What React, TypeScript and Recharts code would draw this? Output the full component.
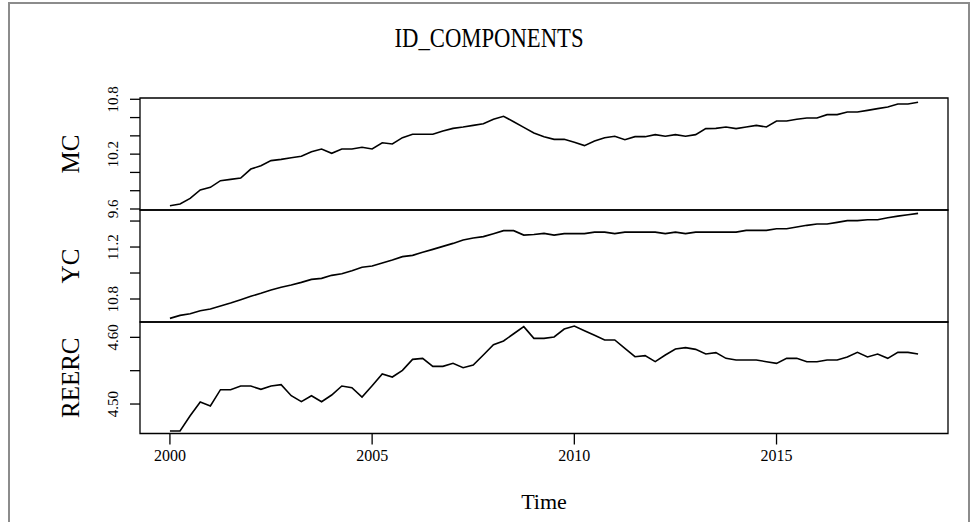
import { LineChart, Line, XAxis, YAxis, ReferenceArea } from 'recharts'

// quarterly series, ts(start = 2000, frequency = 4)
const START = 2000
const FREQ = 4

const MC = [
  9.636, 9.654, 9.716, 9.808, 9.837, 9.910, 9.924, 9.939, 10.037, 10.074,
  10.129, 10.143, 10.161, 10.176, 10.227, 10.256, 10.209, 10.256, 10.256, 10.275,
  10.256, 10.325, 10.311, 10.380, 10.417, 10.417, 10.417, 10.453, 10.482, 10.497,
  10.515, 10.533, 10.581, 10.614, 10.555, 10.493, 10.431, 10.391, 10.362, 10.362,
  10.329, 10.293, 10.344, 10.380, 10.395, 10.358, 10.391, 10.391, 10.413, 10.395,
  10.413, 10.395, 10.413, 10.479, 10.482, 10.497, 10.479, 10.497, 10.515, 10.497,
  10.563, 10.563, 10.581, 10.595, 10.595, 10.632, 10.632, 10.661, 10.661, 10.679,
  10.698, 10.716, 10.749, 10.749, 10.767,
]

const YC = [
  10.651, 10.674, 10.687, 10.710, 10.723, 10.746, 10.769, 10.795, 10.821, 10.844,
  10.869, 10.890, 10.908, 10.928, 10.951, 10.959, 10.982, 10.995, 11.018, 11.044,
  11.054, 11.077, 11.100, 11.126, 11.136, 11.159, 11.182, 11.205, 11.228, 11.254,
  11.269, 11.280, 11.303, 11.326, 11.326, 11.292, 11.296, 11.305, 11.292, 11.303,
  11.303, 11.303, 11.315, 11.315, 11.303, 11.315, 11.315, 11.315, 11.315, 11.303,
  11.315, 11.303, 11.315, 11.315, 11.315, 11.315, 11.315, 11.328, 11.328, 11.328,
  11.341, 11.341, 11.354, 11.367, 11.377, 11.377, 11.390, 11.403, 11.403, 11.410,
  11.410, 11.426, 11.438, 11.449, 11.459,
]

const REERC = [
  4.4595, 4.4595, 4.4825, 4.503, 4.497, 4.5215, 4.5215, 4.527, 4.527, 4.522,
  4.527, 4.529, 4.5125, 4.5035, 4.5125, 4.5035, 4.5135, 4.527, 4.5245, 4.5105,
  4.5275, 4.545, 4.5405, 4.5505, 4.567, 4.5685, 4.5565, 4.5565, 4.561, 4.5545,
  4.5585, 4.5735, 4.589, 4.5945, 4.6054, 4.616, 4.5985, 4.5985, 4.6005, 4.6124,
  4.617, 4.610, 4.603, 4.596, 4.596, 4.5835, 4.571, 4.5725, 4.5635, 4.5735,
  4.5825, 4.5845, 4.582, 4.575, 4.577, 4.5685, 4.566, 4.566, 4.566, 4.5635,
  4.561, 4.5685, 4.5685, 4.5635, 4.5635, 4.566, 4.566, 4.5705, 4.5775, 4.5705,
  4.575, 4.5685, 4.5775, 4.5775, 4.575,
]

const YEAR_TICKS = [2000, 2005, 2010, 2015]
const X_DOMAIN: [number, number] = [1999.26, 2019.24]

const rows = MC.map((v, i) => ({
  t: START + i / FREQ,
  MC: v,
  YC: YC[i],
  REERC: REERC[i],
}))

const FONT = '"Liberation Serif", "DejaVu Serif", serif'
const PAD = 20

const panels = [
  { key: 'MC', top: 98, height: 112, domain: [9.589, 10.814], ticks: [9.6, 9.8, 10.0, 10.2, 10.4, 10.6, 10.8], labels: ['9.6', '10.2', '10.8'], digits: 1 },
  { key: 'YC', top: 210, height: 112, domain: [10.623, 11.485], ticks: [10.8, 11.0, 11.2, 11.4], labels: ['10.8', '11.2'], digits: 1 },
  { key: 'REERC', top: 322, height: 111.5, domain: [4.4558, 4.623], ticks: [4.5, 4.55, 4.6], labels: ['4.50', '4.60'], digits: 2 },
]

const YTick = ({ x, y, payload, labels, digits }: any) => {
  const s = Number(payload.value).toFixed(digits)
  if (!labels.includes(s)) return null
  return (
    <text x={x} y={y} transform={`rotate(-90, ${x}, ${y})`} textAnchor="middle" fontSize={15} fontFamily={FONT} fill="#000">
      {s}
    </text>
  )
}

const XTick = ({ x, y, payload }: any) => (
  <text x={x} y={y + 12} textAnchor="middle" fontSize={16} fontFamily={FONT} fill="#000">
    {payload.value}
  </text>
)

export default function App() {
  return (
    <div style={{ position: 'absolute', left: 0, top: 0, width: 978, height: 522, overflow: 'hidden', background: '#fff' }}>
      <div style={{ position: 'absolute', left: 8, top: 2, width: 958, height: 530, border: '2px solid #8c8c8c' }} />
      <div style={{ position: 'absolute', left: 0, width: 978, top: 21, textAlign: 'center', fontFamily: FONT, fontSize: 27, lineHeight: '34px', transform: 'scaleX(0.84)' }}>
        ID_COMPONENTS
      </div>
      {panels.map((p, idx) => {
        const last = idx === panels.length - 1
        const h = last ? p.height + PAD + 89 : p.height + 2 * PAD
        return (
          <div key={p.key} style={{ position: 'absolute', left: 0, top: p.top - PAD }}>
            <LineChart width={978} height={h} data={rows} margin={{ top: PAD, right: 30, bottom: last ? 0 : PAD, left: 40 }}>
              <XAxis
                type="number"
                dataKey="t"
                domain={X_DOMAIN}
                ticks={YEAR_TICKS}
                allowDataOverflow
                hide={!last}
                height={89}
                axisLine={false}
                tickLine={{ stroke: '#000', strokeWidth: 1.3 }}
                tickSize={11}
                tickMargin={4}
                tick={<XTick />}
                label={{ value: 'Time', position: 'insideBottom', offset: 14, fontSize: 22, fontFamily: FONT, fill: '#000' }}
              />
              <YAxis
                type="number"
                domain={p.domain}
                ticks={p.ticks}
                allowDataOverflow
                width={100}
                axisLine={false}
                tickLine={{ stroke: '#000', strokeWidth: 1.3 }}
                tickSize={10}
                tickMargin={12}
                interval={0}
                tick={<YTick labels={p.labels} digits={p.digits} />}
                label={{ value: p.key, angle: -90, position: 'insideLeft', offset: 30, fontSize: 25, fontFamily: FONT, fill: '#000', style: { textAnchor: 'middle' } }}
              />
              <ReferenceArea x1={X_DOMAIN[0]} x2={X_DOMAIN[1]} y1={p.domain[0]} y2={p.domain[1]} fill="none" stroke="#000" strokeWidth={1.3} ifOverflow="visible" />
              <Line type="linear" dataKey={p.key} stroke="#000" strokeWidth={1.6} dot={false} isAnimationActive={false} />
            </LineChart>
          </div>
        )
      })}
    </div>
  )
}
